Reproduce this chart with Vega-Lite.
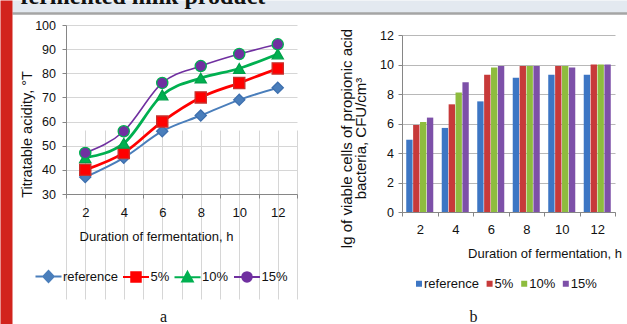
{
  "$schema": "https://vega.github.io/schema/vega-lite/v6.json",
  "width": 627,
  "height": 324,
  "autosize": {"type": "none"},
  "padding": 0,
  "background": "#ffffff",
  "layer": [
    {
      "data": {"values": []},
      "mark": {"type": "point"},
      "encoding": {
        "x": {"field": "hx", "type": "quantitative", "scale": {"domain": [0, 1], "range": [12, 627]},
              "axis": {"orient": "top", "offset": -6.5, "domain": true, "domainColor": "#e3e9f0", "domainWidth": 13, "ticks": false, "labels": false, "grid": false,
                       "title": "fermented milk product", "titleFont": "Liberation Serif", "titleFontWeight": "bold", "titleFontSize": 24, "titleColor": "#111111",
                       "titleX": 20, "titleY": -3.2, "titleAlign": "left", "titleBaseline": "alphabetic", "titleAngle": 0}},
        "y": {"field": "hy", "type": "quantitative", "scale": {"domain": [0, 1], "range": [324, 0]},
              "axis": {"orient": "left", "offset": -6, "domain": true, "domainColor": "#d2231c", "domainWidth": 12, "ticks": false, "labels": false, "grid": false, "title": null}}
      }
    },
    {
      "data": {"values": []},
      "mark": {"type": "point"},
      "encoding": {
        "x": {"field": "gx", "type": "quantitative", "scale": {"domain": [0, 1], "range": [12, 627]},
              "axis": {"orient": "bottom", "offset": -311, "domain": true, "domainColor": "#a5a5a5", "domainWidth": 2.5, "ticks": false, "labels": false, "grid": false,
                       "title": "a", "titleFont": "Liberation Serif", "titleFontSize": 16, "titleFontWeight": "normal", "titleColor": "#111111",
                       "titleX": 163, "titleY": 308.5, "titleAlign": "center", "titleBaseline": "alphabetic", "titleAngle": 0}},
        "y": {"field": "gy", "type": "quantitative", "scale": {"domain": [0, 1], "range": [324, 0]},
              "axis": {"orient": "left", "offset": 0, "domain": false, "ticks": false, "labels": false, "grid": false,
                       "title": "b", "titleFont": "Liberation Serif", "titleFontSize": 16, "titleFontWeight": "normal", "titleColor": "#111111",
                       "titleX": 473, "titleY": 321.5, "titleAlign": "center", "titleBaseline": "alphabetic", "titleAngle": 0}}
      }
    },
    {
      "data": {"values": [
        {"hour": 2, "series": "reference", "acidity": 37},
        {"hour": 4, "series": "reference", "acidity": 45},
        {"hour": 6, "series": "reference", "acidity": 56},
        {"hour": 8, "series": "reference", "acidity": 62.5},
        {"hour": 10, "series": "reference", "acidity": 69},
        {"hour": 12, "series": "reference", "acidity": 74},
        {"hour": 2, "series": "5%", "acidity": 40},
        {"hour": 4, "series": "5%", "acidity": 47},
        {"hour": 6, "series": "5%", "acidity": 60},
        {"hour": 8, "series": "5%", "acidity": 70},
        {"hour": 10, "series": "5%", "acidity": 76},
        {"hour": 12, "series": "5%", "acidity": 82},
        {"hour": 2, "series": "10%", "acidity": 45},
        {"hour": 4, "series": "10%", "acidity": 51},
        {"hour": 6, "series": "10%", "acidity": 71},
        {"hour": 8, "series": "10%", "acidity": 78},
        {"hour": 10, "series": "10%", "acidity": 82},
        {"hour": 12, "series": "10%", "acidity": 88},
        {"hour": 2, "series": "15%", "acidity": 47},
        {"hour": 4, "series": "15%", "acidity": 56},
        {"hour": 6, "series": "15%", "acidity": 76},
        {"hour": 8, "series": "15%", "acidity": 83},
        {"hour": 10, "series": "15%", "acidity": 88},
        {"hour": 12, "series": "15%", "acidity": 92}
      ]},
      "encoding": {
        "x": {"field": "hour", "type": "quantitative", "scale": {"domain": [1, 13], "range": [66, 297], "nice": false, "zero": false},
              "axis": {"orient": "bottom", "offset": -130, "values": [1,2,3,4,5,6,7,8,9,10,11,12,13], "grid": true, "gridColor": "#d6d6d6", "domainColor": "#868686", "tickColor": "#868686", "tickSize": 4,
                       "tickOpacity": {"condition": {"test": "datum.value % 2 === 1", "value": 1}, "value": 0},
                       "labelExpr": "datum.value % 2 === 0 ? datum.label : ''", "labelOverlap": false, "labelFlush": false, "labelPadding": 8, "labelFontSize": 13,
                       "title": "Duration of fermentation, h", "titleX": 156, "titleY": 42, "titleBaseline": "middle", "titleAlign": "center"}},
        "y": {"field": "acidity", "type": "quantitative", "scale": {"domain": [30, 100], "range": [194, 25], "nice": false, "zero": false},
              "axis": {"orient": "left", "offset": -66, "values": [30,40,50,60,70,80,90,100], "grid": true, "gridColor": "#d6d6d6", "domainColor": "#868686", "tickColor": "#868686", "tickSize": 4, "labelPadding": 6.5, "labelFlush": false,
                       "title": "Titratable acidity, °T", "titleFontSize": 14.5, "titleX": -39, "titleY": 134, "titleBaseline": "middle", "titleAlign": "center", "titleAngle": -90}},
        "color": {"field": "series", "type": "nominal",
                  "scale": {"domain": ["reference", "5%", "10%", "15%"], "range": ["#4a7ebb", "#ff0000", "#00b050", "#7030a0"]},
                  "legend": null}
      },
      "layer": [
        {"transform": [{"filter": "datum.series === 'reference'"}], "mark": {"type": "line", "interpolate": "monotone", "strokeWidth": 2}},
        {"transform": [{"filter": "datum.series === '5%' || datum.series === '10%'"}], "mark": {"type": "line", "interpolate": "monotone", "strokeWidth": 2.75}},
        {"transform": [{"filter": "datum.series === '15%'"}], "mark": {"type": "line", "interpolate": "monotone", "strokeWidth": 1.6}},
        {"mark": {"type": "point", "filled": true, "opacity": 1, "size": 125, "strokeWidth": 1.3},
         "encoding": {
           "shape": {"field": "series", "type": "nominal", "scale": {"domain": ["reference", "5%", "10%", "15%"], "range": ["diamond", "square", "triangle-up", "circle"]}, "legend": null},
           "stroke": {"field": "series", "type": "nominal", "scale": {"domain": ["reference", "5%", "10%", "15%"], "range": ["#3d6fae", "#c8302c", "#00a048", "#00b050"]}, "legend": null}
         }}
      ]
    },
    {
      "data": {"values": [
        {"hour": 2, "series": "reference", "lg": 4.9},
        {"hour": 2, "series": "5%", "lg": 5.9},
        {"hour": 2, "series": "10%", "lg": 6.1},
        {"hour": 2, "series": "15%", "lg": 6.4},
        {"hour": 4, "series": "reference", "lg": 5.7},
        {"hour": 4, "series": "5%", "lg": 7.3},
        {"hour": 4, "series": "10%", "lg": 8.1},
        {"hour": 4, "series": "15%", "lg": 8.8},
        {"hour": 6, "series": "reference", "lg": 7.5},
        {"hour": 6, "series": "5%", "lg": 9.3},
        {"hour": 6, "series": "10%", "lg": 9.8},
        {"hour": 6, "series": "15%", "lg": 9.9},
        {"hour": 8, "series": "reference", "lg": 9.1},
        {"hour": 8, "series": "5%", "lg": 9.9},
        {"hour": 8, "series": "10%", "lg": 9.9},
        {"hour": 8, "series": "15%", "lg": 9.9},
        {"hour": 10, "series": "reference", "lg": 9.3},
        {"hour": 10, "series": "5%", "lg": 9.9},
        {"hour": 10, "series": "10%", "lg": 9.9},
        {"hour": 10, "series": "15%", "lg": 9.8},
        {"hour": 12, "series": "reference", "lg": 9.3},
        {"hour": 12, "series": "5%", "lg": 10},
        {"hour": 12, "series": "10%", "lg": 10},
        {"hour": 12, "series": "15%", "lg": 10}
      ]},
      "mark": {"type": "bar"},
      "encoding": {
        "x": {"field": "hour", "type": "ordinal", "scale": {"range": [402, 615], "paddingInner": 0, "paddingOuter": 0},
              "axis": {"orient": "bottom", "offset": -112, "tickBand": "extent", "labelAngle": 0, "grid": false, "domainColor": "#868686", "tickColor": "#868686", "tickSize": 4, "labelPadding": 7.3, "labelFontSize": 13,
                       "title": "Duration of fermentation, h", "titleX": 544.5, "titleY": 41, "titleBaseline": "middle", "titleAlign": "center"}},
        "xOffset": {"field": "series", "type": "nominal", "scale": {"domain": ["reference", "5%", "10%", "15%"], "paddingInner": 0.08, "paddingOuter": 0.615}},
        "y": {"field": "lg", "type": "quantitative", "scale": {"domain": [0, 12], "range": [212, 35], "nice": false},
              "axis": {"orient": "left", "offset": -402, "values": [0,2,4,6,8,10,12], "grid": true, "gridColor": "#b8b8b8", "domainColor": "#868686", "tickColor": "#868686", "tickSize": 4, "labelPadding": 4.5, "labelFlush": false,
                       "title": ["lg of viable cells of propionic acid", "bacteria, CFU/cm³"], "titleFontSize": 15, "titleX": -55.25, "titleY": 138, "titleBaseline": "middle", "titleAlign": "center", "titleAngle": -90, "titleLineHeight": 13.5}},
        "color": {"field": "series", "type": "nominal",
                  "scale": {"domain": ["reference", "5%", "10%", "15%"], "range": ["#3d76c4", "#c73a3a", "#8ebc3e", "#7d50a8"]},
                  "legend": {"orient": "none", "legendX": 412.5, "legendY": 277, "direction": "horizontal", "title": null, "padding": 0,
                             "labelFont": "Liberation Sans", "labelFontSize": 13, "labelColor": "#111111", "symbolType": "square", "symbolSize": 36, "symbolStrokeWidth": 0, "symbolOpacity": 1, "labelOffset": -1.5, "columnPadding": 3.6}}
      }
    },
    {
      "data": {"values": []},
      "mark": {"type": "point", "filled": true, "opacity": 1, "size": 100, "strokeWidth": 2},
      "encoding": {
        "color": {"field": "series", "type": "nominal",
                  "scale": {"domain": ["reference", "5%", "10%", "15%"], "range": ["#4a7ebb", "#ff0000", "#00b050", "#7030a0"]},
                  "legend": {"orient": "none", "legendX": 35, "legendY": 270, "direction": "horizontal", "title": null, "padding": 0,
                             "labelFont": "Liberation Sans", "labelFontSize": 13, "labelColor": "#111111", "symbolSize": 100, "symbolStrokeWidth": 2, "symbolOpacity": 1, "labelOffset": 15, "columnPadding": 0.5}},
        "shape": {"field": "series", "type": "nominal",
                  "scale": {"domain": ["reference", "5%", "10%", "15%"],
                            "range": ["M-1.2,0H4M1.4,-1.1L2.45,0L1.4,1.1L0.35,0Z", "M-1.2,0H4M0.45,-0.95H2.35V0.95H0.45Z", "M-1.2,0H4M1.4,-1.05L2.45,0.85L0.35,0.85Z", "M-1.2,0H4M0.45,0A0.95,0.95 0 1,1 2.35,0A0.95,0.95 0 1,1 0.45,0Z"]},
                  "legend": {"orient": "none", "legendX": 35, "legendY": 270, "direction": "horizontal", "title": null, "padding": 0,
                             "labelFont": "Liberation Sans", "labelFontSize": 13, "labelColor": "#111111", "symbolSize": 100, "symbolStrokeWidth": 2, "symbolOpacity": 1, "labelOffset": 15, "columnPadding": 0.5}},
        "stroke": {"field": "series", "type": "nominal",
                   "scale": {"domain": ["reference", "5%", "10%", "15%"], "range": ["#4a7ebb", "#ff0000", "#00b050", "#7030a0"]},
                   "legend": {"orient": "none", "legendX": 35, "legendY": 270, "direction": "horizontal", "title": null, "padding": 0,
                              "labelFont": "Liberation Sans", "labelFontSize": 13, "labelColor": "#111111", "symbolSize": 100, "symbolStrokeWidth": 2, "symbolOpacity": 1, "labelOffset": 15, "columnPadding": 0.5}}
      }
    }
  ],
  "resolve": {
    "scale": {"x": "independent", "y": "independent", "color": "independent", "shape": "independent", "stroke": "independent"},
    "axis": {"x": "independent", "y": "independent"},
    "legend": {"color": "independent", "shape": "independent", "stroke": "independent"}
  },
  "config": {
    "view": {"stroke": null},
    "font": "Liberation Sans",
    "axis": {"labelFont": "Liberation Sans", "titleFont": "Liberation Sans", "labelFontSize": 12.5, "titleFontSize": 13, "titleFontWeight": "normal", "labelColor": "#111111", "titleColor": "#111111"}
  }
}
